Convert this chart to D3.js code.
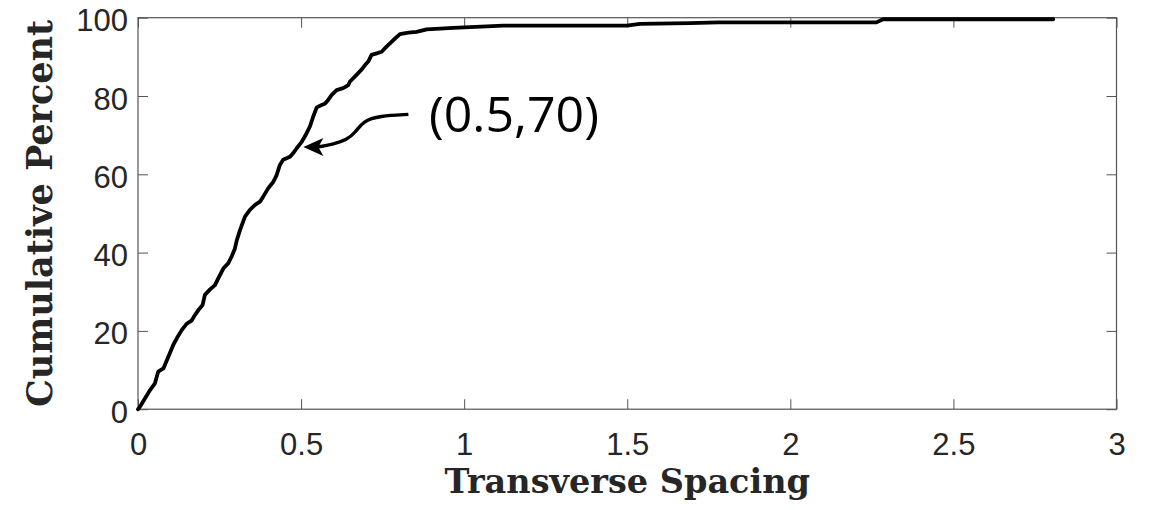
<!DOCTYPE html>
<html lang="en">
<head>
<meta charset="utf-8">
<title>Cumulative Percent vs Transverse Spacing</title>
<script src="https://d3js.org/d3.v7.min.js"></script>
<style>
  body { margin: 0; background: #fff; }
</style>
</head>
<body>
<div id="canvas"></div>
<script type="text/javascript">
// values
const spacing = [0, 0.006, 0.037, 0.052, 0.062, 0.078, 0.093, 0.108, 0.119, 0.134, 0.149, 0.164,
  0.175, 0.185, 0.198, 0.205, 0.221, 0.236, 0.246, 0.262, 0.277, 0.287, 0.297, 0.303, 0.313,
  0.328, 0.343, 0.359, 0.374, 0.384, 0.399, 0.415, 0.425, 0.435, 0.445, 0.466, 0.476, 0.486,
  0.502, 0.517, 0.527, 0.537, 0.548, 0.563, 0.573, 0.583, 0.594, 0.609, 0.629, 0.645, 0.650,
  0.670, 0.686, 0.696, 0.706, 0.716, 0.732, 0.747, 0.762, 0.783, 0.803, 0.829, 0.854, 0.885,
  0.926, 0.967, 1.120, 1.498, 1.539, 1.692, 1.780, 2.264, 2.284, 2.806];
const cumPercent = [0, 0.6, 4.9, 6.6, 9.6, 10.4, 13.4, 16.4, 18.1, 20.2, 21.8, 22.6,
  24.1, 25.3, 26.6, 29.2, 30.6, 31.7, 33.4, 36.0, 37.3, 39.0, 41.0, 43.2, 45.8,
  49.2, 50.9, 52.2, 53.0, 54.3, 56.4, 58.1, 59.8, 62.4, 63.7, 64.5, 65.4, 66.6,
  68.3, 70.5, 72.2, 74.7, 77.1, 77.7, 78.0, 79.0, 80.3, 81.5, 82.0, 82.8, 83.7,
  85.4, 86.8, 87.9, 88.8, 90.5, 90.9, 91.3, 92.6, 94.3, 95.8, 96.2, 96.4, 97.0,
  97.2, 97.4, 98.0, 98.0, 98.4, 98.6, 98.8, 98.8, 99.6, 99.6];

const xTicks = [0, 0.5, 1, 1.5, 2, 2.5, 3];
const yTicks = [0, 20, 40, 60, 80, 100];

// annotation arrow, in data units
const arrowPath = [[0.829, 75.3], [0.740, 74.9], [0.690, 73.6], [0.668, 70.8],
  [0.640, 68.8], [0.599, 67.7], [0.558, 67.0], [0.530, 67.0]];
const arrowTip = [0.507, 67.0];
const noteLabel = "(0.5,70)";

const width = 1153, height = 510;
const margin = {top: 17.7, right: 36.5, bottom: 100.8, left: 138};

const x = d3.scaleLinear().domain([0, 3]).range([margin.left, width - margin.right]);
const y = d3.scaleLinear().domain([0, 100]).range([height - margin.bottom, margin.top]);

const svg = d3.select("#canvas").append("svg")
    .attr("width", width)
    .attr("height", height)
    .attr("font-family", "'Liberation Sans', Arial, sans-serif");

const textColor = "#262626";
const lineColor = "#555";

// axes with inward ticks
svg.append("g")
    .attr("transform", `translate(0,${y(0)})`)
    .call(d3.axisBottom(x).tickValues(xTicks).tickFormat(d3.format("")).tickSizeInner(-10).tickSizeOuter(0).tickPadding(24))
    .call(g => g.select(".domain").remove())
    .call(g => g.selectAll("line").attr("stroke", lineColor))
    .call(g => g.selectAll("text").attr("fill", textColor).attr("font-size", 31));

svg.append("g")
    .attr("transform", `translate(0,${y(100)})`)
    .call(d3.axisTop(x).tickValues(xTicks).tickFormat("").tickSizeInner(-10).tickSizeOuter(0))
    .call(g => g.select(".domain").remove())
    .call(g => g.selectAll("line").attr("stroke", lineColor));

svg.append("g")
    .attr("transform", `translate(${x(0)},0)`)
    .call(d3.axisLeft(y).tickValues(yTicks).tickSizeInner(-10).tickSizeOuter(0).tickPadding(10))
    .call(g => g.select(".domain").remove())
    .call(g => g.selectAll("line").attr("stroke", lineColor))
    .call(g => g.selectAll("text").attr("fill", textColor).attr("font-size", 31).attr("dy", "0.42em"));

svg.append("g")
    .attr("transform", `translate(${x(3)},0)`)
    .call(d3.axisRight(y).tickValues(yTicks).tickFormat("").tickSizeInner(-10).tickSizeOuter(0))
    .call(g => g.select(".domain").remove())
    .call(g => g.selectAll("line").attr("stroke", lineColor));

svg.append("rect")
    .attr("x", x(0))
    .attr("y", y(100))
    .attr("width", x(3) - x(0))
    .attr("height", y(0) - y(100))
    .attr("fill", "none")
    .attr("stroke", lineColor)
    .attr("stroke-width", 1.2);

// curve
const line = d3.line().x(d => x(d[0])).y(d => y(d[1]));
svg.append("path")
    .datum(spacing.map((s, i) => [s, cumPercent[i]]))
    .attr("d", line)
    .attr("fill", "none")
    .attr("stroke", "#000")
    .attr("stroke-width", 3.8)
    .attr("stroke-linejoin", "round")
    .attr("stroke-linecap", "round");

// annotation
svg.append("path")
    .datum(arrowPath)
    .attr("d", d3.line().x(d => x(d[0])).y(d => y(d[1])).curve(d3.curveBasis))
    .attr("fill", "none")
    .attr("stroke", "#000")
    .attr("stroke-width", 3.4);

const tx = x(arrowTip[0]), ty = y(arrowTip[1]);
svg.append("path")
    .attr("d", `M${tx},${ty} L${tx + 20},${ty - 9} L${tx + 15},${ty} L${tx + 20},${ty + 9} Z`)
    .attr("fill", "#000");

svg.append("text")
    .attr("x", 429)
    .attr("y", y(70.8))
    .attr("font-family", "'Open Sans', sans-serif")
    .attr("font-size", 50)
    .attr("fill", "#000")
    .text(noteLabel);

// axis titles
svg.append("text")
    .attr("x", (x(0) + x(3)) / 2)
    .attr("y", 493)
    .attr("text-anchor", "middle")
    .attr("font-family", "'DejaVu Serif', serif")
    .attr("font-weight", "bold")
    .attr("font-size", 33.5)
    .attr("fill", textColor)
    .text("Transverse Spacing");

svg.append("text")
    .attr("transform", `translate(52,${(y(0) + y(100)) / 2}) rotate(-90)`)
    .attr("text-anchor", "middle")
    .attr("font-family", "'DejaVu Serif', serif")
    .attr("font-weight", "bold")
    .attr("font-size", 35)
    .attr("fill", textColor)
    .text("Cumulative Percent");
</script>
</body>
</html>
